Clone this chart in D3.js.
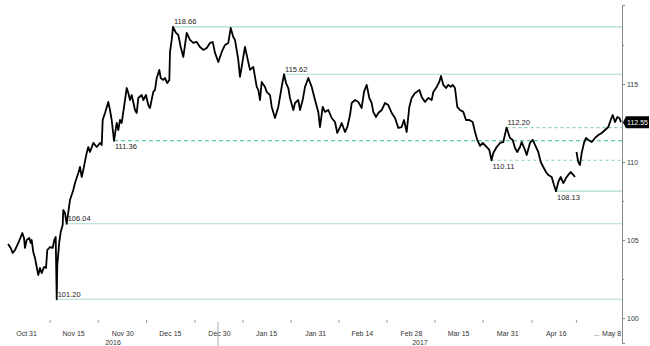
<!DOCTYPE html>
<html>
<head>
<meta charset="utf-8">
<script src="https://cdn.jsdelivr.net/npm/d3@7"></script>
<style>
  body { margin: 0; background: #fff; }
  svg text { font-family: "Liberation Sans", Arial, sans-serif; }
</style>
</head>
<body>
<div id="chart"></div>
<script>
// session index of each traced point (0 = Oct 31, ~10 sessions per label)
var session = [
  -3.70,-3.15,-2.74,-2.26,-1.58,-1.09,-0.76,-0.41,-0.21,0.14,
  0.68,0.97,1.17,1.50,1.85,2.20,2.53,2.88,3.23,3.70,
  4.12,4.38,4.94,5.49,5.82,6.11,6.32,6.44,6.85,7.14,
  7.55,7.67,8.02,8.37,9.05,9.73,10.08,10.76,11.11,11.46,
  11.79,12.49,12.82,13.17,13.85,14.55,15.23,15.58,15.78,16.26,
  16.93,17.28,17.63,18.11,18.66,18.99,19.34,19.69,20.37,20.72,
  21.05,21.40,21.75,22.43,22.78,23.11,23.81,24.14,24.69,25.16,
  25.51,26.19,26.54,26.89,27.43,27.72,28.25,28.60,29.07,29.49,
  29.63,29.98,30.25,30.86,31.34,31.83,32.37,32.72,33.07,33.74,
  34.42,35.12,35.80,36.48,37.18,37.86,38.42,38.89,39.57,40.27,
  40.95,41.63,42.12,42.65,43.00,43.68,44.03,44.38,44.71,45.06,
  45.41,46.09,46.77,47.12,47.47,47.80,48.15,48.50,49.18,49.53,
  50.21,50.56,51.23,51.91,52.26,52.61,53.09,53.50,53.97,54.32,
  55.00,55.35,56.03,56.38,56.93,57.41,58.09,58.79,59.47,60.14,
  60.49,61.05,61.52,62.20,62.90,63.58,64.05,64.61,64.96,65.64,
  66.11,66.67,67.02,67.70,68.37,69.07,69.55,70.10,70.64,71.13,
  71.46,72.02,72.49,73.19,73.87,74.55,75.25,75.93,76.61,77.30,
  77.78,78.33,78.87,79.36,80.04,80.39,80.93,81.42,82.10,82.78,
  83.48,83.81,84.51,85.04,85.39,85.86,86.42,86.89,87.39,87.80,
  88.27,88.74,89.30,89.98,90.53,91.21,91.91,92.39,92.86,93.42,
  93.97,94.79,95.33,95.78,96.15,96.85,97.53,98.21,98.87,99.59,
  100.14,100.62,101.09,101.65,101.99,102.67,103.02,103.70,104.26,104.73,
  105.41,105.91,106.44,107.00,107.47,108.17,108.64,109.05,109.53,110.02,
  110.56,111.11,111.58,112.08,112.61,112.96,113.10,113.27,113.64,113.99,
  114.34,114.81,115.23,115.70,116.40,117.08,117.76,118.46,119.14,119.81,
  120.31,120.72,121.19,121.67,122.08,122.43
];
// price at each session (null = gap in the feed)
var price = [
  104.74,104.49,104.17,104.36,104.81,105.19,105.45,105.13,104.49,105.00,
  105.13,104.81,105.00,104.23,103.85,103.27,102.76,103.21,102.88,103.27,
  103.21,104.36,104.55,104.49,105.00,105.19,101.20,103.40,104.87,105.51,
  105.96,106.92,106.73,106.04,107.56,108.21,108.65,109.29,109.68,109.04,
  109.49,110.58,110.96,110.64,111.22,110.96,111.22,111.09,112.69,113.14,
  113.85,113.33,112.69,111.36,112.50,112.05,112.69,112.50,113.97,114.74,
  114.42,113.97,114.29,113.33,113.14,114.10,114.29,113.97,114.29,113.65,
  113.46,114.49,114.62,115.38,115.90,115.38,115.26,115.38,115.06,115.26,
  117.05,117.82,118.66,118.27,118.14,117.37,116.73,117.50,118.27,117.82,
  117.63,117.69,117.37,117.18,117.31,117.63,117.69,116.99,116.41,117.05,
  117.50,117.63,118.59,118.01,117.82,116.54,115.45,116.09,116.73,117.37,
  116.86,115.90,116.09,115.45,114.81,114.62,113.97,115.13,114.81,114.49,
  114.29,113.53,112.82,113.53,114.17,114.81,115.62,115.06,114.74,114.10,
  113.33,113.78,113.97,113.33,113.97,114.81,115.38,114.81,113.97,113.21,
  112.24,113.53,113.21,113.33,112.82,112.56,111.86,112.24,112.50,111.92,
  112.24,113.01,113.78,113.97,113.85,113.46,114.49,114.94,114.10,113.78,
  113.21,112.88,113.14,113.33,113.78,113.65,113.14,112.82,112.18,112.24,
  112.69,111.92,113.53,114.10,114.42,114.49,114.62,114.17,113.85,114.10,
  113.97,114.49,114.81,115.13,115.51,114.94,114.74,114.94,114.81,114.94,
  114.74,113.53,113.33,113.21,112.69,112.69,112.56,111.92,111.41,111.03,
  111.22,110.96,110.77,110.11,110.58,110.96,111.22,111.28,112.20,111.54,
  111.41,110.90,110.64,110.96,111.28,110.77,110.45,111.22,111.41,111.09,
  110.64,110.00,109.68,109.36,109.17,109.04,108.53,108.13,108.72,109.04,
  108.65,108.97,109.17,109.36,109.17,109.04,null,110.64,110.00,109.81,
  110.58,111.22,111.54,111.41,111.28,111.54,111.73,111.86,112.05,112.24,
  112.69,113.01,112.56,112.88,112.82,112.55
];

var tickSession = [0, 9.7, 19.8, 29.6, 39.7, 49.4, 59.5, 69.1, 79.2, 88.9, 99.0, 109.0, 117.3, 120.4];
var tickLabel = ["Oct 31", "Nov 15", "Nov 30", "Dec 15", "Dec 30", "Jan 15", "Jan 31",
                 "Feb 14", "Feb 28", "Mar 15", "Mar 31", "Apr 16", "...", "May 8"];
var yearBreak = 39.5;
var years = ["2016", "2017"];

// highs / lows marked on the chart, and the session where each was set
var levelValue = [118.66, 115.62, 112.20, 111.36, 110.11, 108.13, 106.04, 101.20];
var levelFrom  = [30.25, 53.09, 98.87, 18.11, 95.78, 109.05, 8.37, 6.32];
var lastPrice = 112.55;

var yTicks = [100, 105, 110, 115];
var yMinor = [102.5, 107.5, 112.5, 117.5];

// ---- drawing ----
var W = 650, H = 346, axisX = 622;

var svg = d3.select("#chart").append("svg")
    .attr("width", W).attr("height", H);

var x = d3.scaleLinear().domain([0, 110]).range([26, 560.6]);
var y = d3.scaleLinear().domain([98.4, 120.06]).range([343, 5]);

// level lines
var look = [
  {dash: null, col: "#a9dccb", side: "up"},
  {dash: null, col: "#a9dccb", side: "up"},
  {dash: "3,3", col: "#86d2b6", side: "up"},
  {dash: "4,3", col: "#3cb990", side: "down"},
  {dash: "3,3", col: "#86d2b6", side: "down"},
  {dash: null, col: "#a9dccb", side: "down"},
  {dash: null, col: "#a9dccb", side: "up"},
  {dash: null, col: "#a9dccb", side: "up"}
];

var lv = svg.append("g").selectAll("g")
    .data(levelValue).enter().append("g");

lv.append("line")
    .attr("x1", function(d, i) { return x(levelFrom[i]); })
    .attr("x2", axisX)
    .attr("y1", function(d) { return y(d); })
    .attr("y2", function(d) { return y(d); })
    .attr("stroke", function(d, i) { return look[i].col; })
    .attr("stroke-width", 1.1)
    .attr("stroke-dasharray", function(d, i) { return look[i].dash; });

lv.append("text")
    .attr("x", function(d, i) { return x(levelFrom[i]) + 1; })
    .attr("y", function(d, i) { return y(d) + (look[i].side == "up" ? -2.5 : 8.5); })
    .attr("font-size", "7.5px")
    .attr("fill", "#222")
    .text(function(d) { return d.toFixed(2); });

// price line
var pts = session.map(function(s, i) { return {s: s, v: price[i]}; });
var line = d3.line()
    .defined(function(d) { return d.v != null; })
    .x(function(d) { return x(d.s); })
    .y(function(d) { return y(d.v); });

svg.append("path")
    .datum(pts)
    .attr("d", line)
    .attr("fill", "none")
    .attr("stroke", "#000")
    .attr("stroke-width", 1.8)
    .attr("stroke-linejoin", "round");

// right axis
var yAxis = svg.append("g")
    .attr("transform", "translate(" + axisX + ",0)")
    .call(d3.axisRight(y).tickValues(yTicks).tickSize(3).tickSizeOuter(3).tickPadding(2)
      .tickFormat(d3.format("d")));
yAxis.selectAll("text").attr("font-size", "7px").attr("fill", "#333");
yAxis.select(".domain").attr("stroke", "#888");
yAxis.selectAll(".tick line").attr("stroke", "#888");

var yMin = svg.append("g")
    .attr("transform", "translate(" + axisX + ",0)")
    .call(d3.axisRight(y).tickValues(yMinor).tickSize(2).tickFormat(""));
yMin.select(".domain").remove();
yMin.selectAll(".tick line").attr("stroke", "#888");

// last value tag
var ly = y(lastPrice);
svg.append("path")
    .attr("d", "M" + (axisX + 1) + "," + ly + "L" + (axisX + 4) + "," + (ly - 6) +
               "H" + (W - 1) + "V" + (ly + 6) + "H" + (axisX + 4) + "Z")
    .attr("fill", "#000");
svg.append("text")
    .attr("x", (axisX + 4 + W - 1) / 2)
    .attr("y", ly + 2.6)
    .attr("text-anchor", "middle")
    .attr("font-size", "7px")
    .attr("fill", "#fff")
    .text(lastPrice.toFixed(2));

// bottom axis: small ticks between labels, then the labels
var mids = [];
for (var i = 0; i < 12; i++) mids.push((tickSession[i] + tickSession[i + 1]) / 2);

var xTicks = svg.append("g")
    .attr("transform", "translate(0,320)")
    .call(d3.axisBottom(x).tickValues(mids).tickSize(3).tickFormat(""));
xTicks.select(".domain").remove();
xTicks.selectAll(".tick line").attr("stroke", "#999");

var xAxis = svg.append("g")
    .attr("transform", "translate(0,320)")
    .call(d3.axisBottom(x).tickValues(tickSession).tickSize(0).tickPadding(11)
      .tickFormat(function(d, i) { return tickLabel[i]; }));
xAxis.select(".domain").remove();
xAxis.selectAll("text").attr("font-size", "7px").attr("fill", "#333");

// year separator and year labels
svg.append("line")
    .attr("x1", x(yearBreak)).attr("x2", x(yearBreak))
    .attr("y1", 322).attr("y2", H)
    .attr("stroke", "#aaa");

var yearMid = [(x(session[0]) + x(yearBreak)) / 2, (x(yearBreak) + axisX) / 2];
svg.selectAll(".yr").data(years).enter().append("text")
    .attr("x", function(d, i) { return yearMid[i]; })
    .attr("y", 345)
    .attr("text-anchor", "middle")
    .attr("font-size", "7px")
    .attr("fill", "#333")
    .text(function(d) { return d; });
</script>
</body>
</html>
